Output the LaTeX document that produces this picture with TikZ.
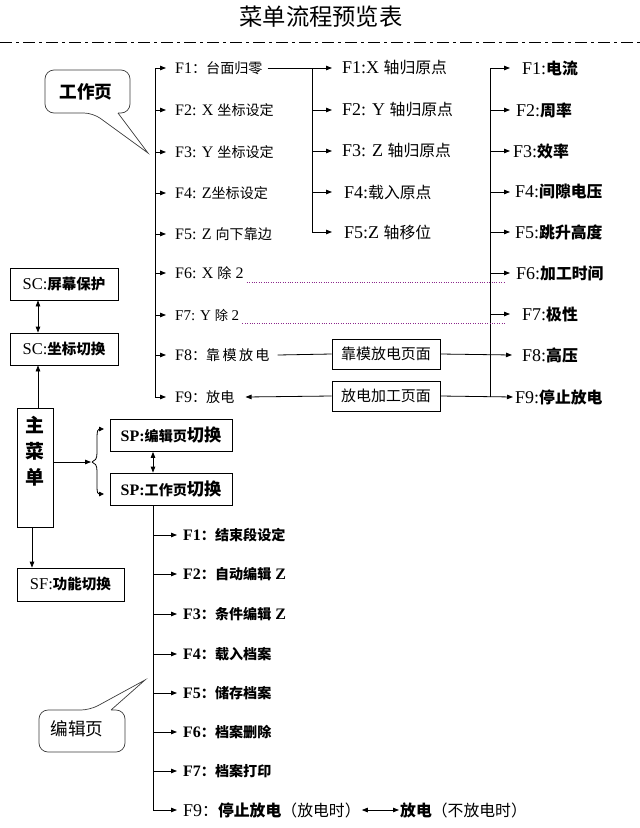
\documentclass[tikz,border=0pt]{standalone}
\usepackage{fontspec}
\setmainfont{Liberation Serif}
\newfontfamily\cjk{Noto Sans CJK SC}[Scale=0.88]
\newcommand\zh[1]{{\cjk #1}}
\newcommand\zhb[1]{{\cjk\bfseries #1}}
\usetikzlibrary{arrows.meta,calc}
\tikzset{
  ln/.style={line width=0.8pt},
  arr/.style={line width=0.8pt,-{Triangle[length=6pt,width=4.5pt]}},
  darr/.style={line width=0.8pt,{Triangle[length=6pt,width=4.5pt]}-{Triangle[length=6pt,width=4.5pt]}},
  lbl/.style={anchor=west,inner sep=0pt,font=\fontsize{16}{18}\selectfont},
  mlbl/.style={anchor=west,inner sep=0pt,font=\fontsize{18}{20}\selectfont},
  rlbl/.style={anchor=west,inner sep=0pt,font=\fontsize{18}{20}\selectfont},
  elbl/.style={anchor=west,inner sep=0pt,font=\fontsize{16}{18}\selectfont\bfseries},
  pagebox/.style={draw,line width=0.8pt,inner sep=0pt,minimum width=108pt,minimum height=30pt,font=\fontsize{17}{19}\selectfont},
  keybox/.style={draw,line width=0.8pt,inner sep=0pt,minimum width=108pt,minimum height=32pt,font=\fontsize{16.5}{18}\selectfont},
  spbox/.style={draw,line width=0.8pt,inner sep=0pt,minimum width=122pt,minimum height=32pt,font=\fontsize{16}{18}\selectfont\bfseries},
  dots/.style={draw={rgb,255:red,140;green,40;blue,140},line width=0.7pt,dash pattern=on 1pt off 1.4pt},
  callout/.style={line width=0.7pt,draw={rgb,255:red,60;green,60;blue,60}}
}
\begin{document}
\begin{tikzpicture}[x=1pt,y=-1pt]
\useasboundingbox (0,0) rectangle (640,828);
% title and separator
\node[font=\fontsize{26.5}{28}\selectfont] (title) at (321,17) {\zh{菜单流程预览表}};
\coordinate (dl) at (0,42); \coordinate (dr) at (640,42);
\draw[line width=1pt,dash pattern=on 12pt off 4pt on 3pt off 4pt] (dl) -- (dr);

% callout work page
\draw[callout] (118,113) [rounded corners=9pt] -- (130,113) -- (130,70) -- (45,70) -- (45,113) -- (93,113) [sharp corners] -- (148,153) -- (118,113);
\node[font=\fontsize{20}{22}\selectfont\bfseries] (wcall) at (86,92) {\zh{工作页}};

% work page column
\coordinate (wt) at (155,0); \coordinate (wend) at (166,0);
\node[lbl] (w1) at (175,68) {F1\zh{：台面归零}};
\node[lbl] (w2) at (175,110) {F2: X \zh{坐标设定}};
\node[lbl] (w3) at (175,152) {F3: Y \zh{坐标设定}};
\node[lbl] (w4) at (175,193) {F4: Z\zh{坐标设定}};
\node[lbl] (w5) at (175,234) {F5: Z \zh{向下靠边}};
\node[lbl] (w6) at (175,273) {F6: X \zh{除} 2};
\node[lbl,font=\fontsize{15}{17}\selectfont] (w7) at (175,315) {F7: Y \zh{除} 2};
\node[lbl] (w8) at (175,355) {F8\zh{：靠\,模\,放\,电}};
\node[lbl] (w9) at (175,397) {F9\zh{：放电}};
\draw[arr] (wt |- w9.west) -- (wt |- w1.west) -- (wend |- w1.west);
\foreach \n in {w2,w3,w4,w5,w6,w7,w8,w9} \draw[arr] (wt |- \n.west) -- (wend |- \n.west);

% middle column
\coordinate (mt) at (312,0); \coordinate (mend) at (332,0);
\node[mlbl] (m1) at (342,68) {F1:X \zh{轴归原点}};
\node[mlbl] (m2) at (342,110) {F2: Y \zh{轴归原点}};
\node[mlbl] (m3) at (342,151) {F3: Z \zh{轴归原点}};
\node[mlbl] (m4) at (344,192) {F4:\zh{载入原点}};
\node[mlbl] (m5) at (344,232) {F5:Z \zh{轴移位}};
\draw[ln] ([xshift=5pt]w1.east) -- (mt |- w1.east);
\draw[arr] (mt |- m5.west) -- (mt |- m1.west) -- (mend |- m1.west);
\foreach \n in {m2,m3,m4,m5} \draw[arr] (mt |- \n.west) -- (mend |- \n.west);

% right column
\coordinate (rt) at (490,0); \coordinate (rend) at (510,0);
\node[rlbl] (r1) at (522,68) {F1:\zhb{电流}};
\node[rlbl] (r2) at (516,110) {F2:\zhb{周率}};
\node[rlbl] (r3) at (513,151) {F3:\zhb{效率}};
\node[rlbl] (r4) at (515,192) {F4:\zhb{间隙电压}};
\node[rlbl] (r5) at (515,232) {F5:\zhb{跳升高度}};
\node[rlbl] (r6) at (516,273) {F6:\zhb{加工时间}};
\node[rlbl] (r7) at (522,314) {F7:\zhb{极性}};
\node[rlbl] (r8) at (522,355) {F8:\zhb{高压}};
\node[rlbl] (r9) at (515,397) {F9:\zhb{停止放电}};
\draw[arr] (rt |- r9.west) -- (rt |- r1.west) -- (rend |- r1.west);
\foreach \n in {r2,r3,r4,r5,r6,r7} \draw[arr] (rt |- \n.west) -- (rend |- \n.west);

% dotted guide lines
\draw[dots] (w6.east |- 0,282) ++(3,0) -- (505,282);
\draw[dots] (w7.east |- 0,323) ++(3,0) -- (505,323);

% page boxes
\node[pagebox] (b8) at (386,354) {\zh{靠模放电页面}};
\node[pagebox] (b9) at (386,396) {\zh{放电加工页面}};
\draw[ln] ([xshift=8pt]w8.east) -- (b8.west);
\draw[arr] (b8.east) -- ([xshift=-10pt]r8.west);
\draw[arr] (b9.west) -- ([xshift=11pt]w9.east);
\draw[arr] (b9.east) -- ([xshift=-2pt]r9.west);

% left side
\node[keybox] (sc1) at (64,284) {SC:\zhb{屏幕保护}};
\node[keybox] (sc2) at (64,349) {SC:\zhb{坐标切换}};
\node[draw,line width=0.8pt,minimum width=36pt,minimum height=119pt,inner sep=0pt] (mm) at (35,467.5) {};
\node[font=\fontsize{21.5}{26}\selectfont\bfseries,align=center,anchor=north] (mmt) at (35,413) {\zh{主}\\\zh{菜}\\\zh{单}};
\node[keybox,minimum width=107pt,minimum height=33pt] (sf) at (70.5,584.5) {SF:\zhb{功能切换}};
\draw[darr] ([xshift=-26pt]sc1.south) -- ([xshift=-26pt]sc2.north);
\draw[arr] ([xshift=3pt]mm.north) -- ([xshift=3pt]mm.north |- sc2.south);
\draw[arr] ([xshift=-3pt]mm.south) -- ([xshift=-3pt]mm.south |- sf.north);

% brace to SP boxes
\coordinate (nose) at (92,462);
\draw[arr] (mm.east |- nose) -- ([xshift=-1pt]nose);
\draw[ln,-{Triangle[length=5pt,width=4.5pt]}] (nose) .. controls (95,461) and (97,459) .. (97,453) -- (97,437) .. controls (97,431) and (98,429) .. (104,429);
\draw[ln,-{Triangle[length=5pt,width=4.5pt]}] (nose) .. controls (95,463) and (97,465) .. (97,471) -- (97,487) .. controls (97,493) and (98,494) .. (104,494);

\node[spbox] (spe) at (171,435.5) {SP:\zhb{编辑页}\zhb{\fontsize{19.5}{21}\selectfont 切换}};
\node[spbox] (spw) at (171,489) {SP:\zhb{工作页}\zhb{\fontsize{19.5}{21}\selectfont 切换}};
\draw[darr] ([xshift=-18pt]spe.south) -- ([xshift=-18pt]spw.north);

% edit page column
\coordinate (et) at (153,0); \coordinate (eend) at (177,0);
\node[elbl] (e1) at (183,535) {F1\zh{：结束段设定}};
\node[elbl] (e2) at (183,574) {F2\zh{：自动编辑} Z};
\node[elbl] (e3) at (183,614) {F3\zh{：条件编辑} Z};
\node[elbl] (e4) at (183,654) {F4\zh{：载入档案}};
\node[elbl] (e5) at (183,693) {F5\zh{：储存档案}};
\node[elbl] (e6) at (183,732) {F6\zh{：档案删除}};
\node[elbl] (e7) at (183,771) {F7\zh{：档案打印}};
\node[lbl,font=\fontsize{18}{20}\selectfont] (e9a) at (183,810) {F9\zh{：}\zhb{停止放电}\zh{（放电时）}};
\node[lbl,font=\fontsize{18}{20}\selectfont] (e9b) at (400,810) {\zhb{放电}\zh{（不放电时）}};
\draw[ln] ([xshift=-18pt]spw.south) -- (et |- e9a.west);
\foreach \n in {e1,e2,e3,e4,e5,e6,e7,e9a} \draw[arr] (et |- \n.west) -- (eend |- \n.west);
\draw[darr] ([xshift=1pt]e9a.east) -- ([xshift=-1pt]e9b.west);

% callout edit page
\draw[callout] (111,710) [rounded corners=9pt] -- (125,710) -- (125,752) -- (39,752) -- (39,710) -- (90,710) [sharp corners] -- (145,680) -- (111,710);
\node[font=\fontsize{20}{22}\selectfont] (ecall) at (77,729) {\zh{编辑页}};
\end{tikzpicture}
\end{document}
